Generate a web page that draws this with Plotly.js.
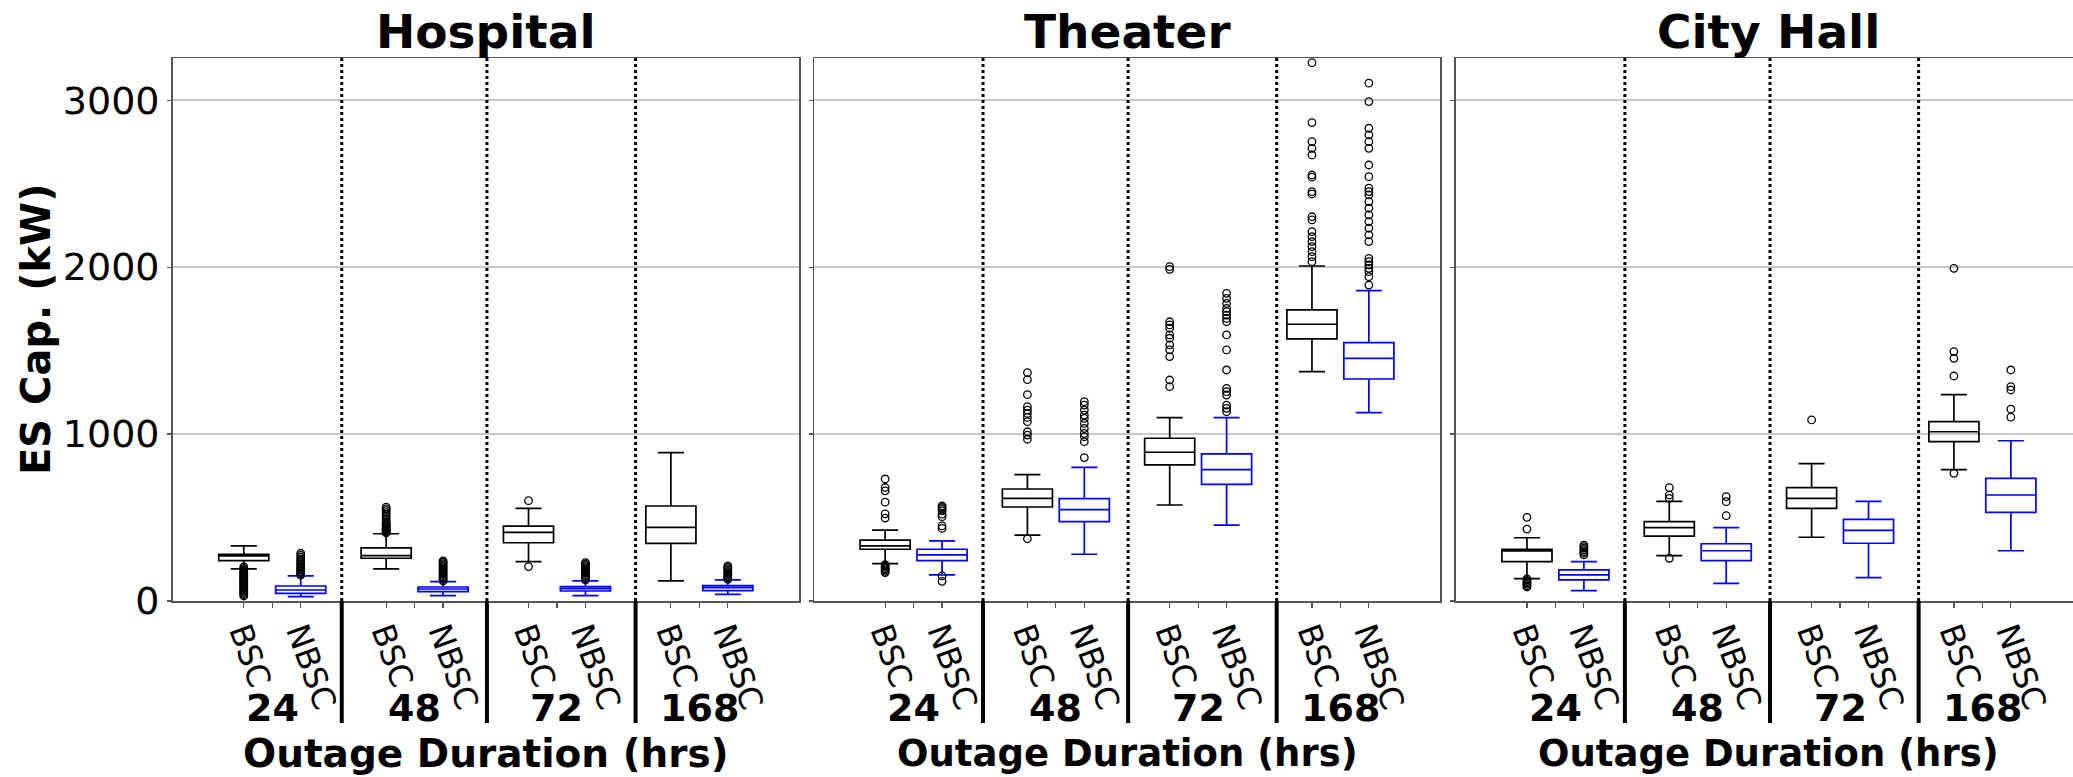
<!DOCTYPE html>
<html>
<head>
<meta charset="utf-8">
<script src="https://cdn.plot.ly/plotly-3.0.1.min.js"></script>
<style>
  html, body { margin: 0; padding: 0; overflow: hidden; background: #fff; }
  #chart { width: 2090px; height: 777px; }
</style>
</head>
<body>
<div id="chart"></div>
<script>
// ---------------- DATA ----------------
const panels = ['Hospital', 'Theater', 'City Hall'];
const durations = ['24', '48', '72', '168'];
const configs = ['BSC', 'NBSC'];
const yTicks = [0, 1000, 2000, 3000];

// per duration: [lower whisker, Q1, median, Q3, upper whisker]  (kW)
const hospitalBSC  = [[192, 242, 270, 280, 330], [192, 256, 272, 318, 403], [236, 349, 411, 449, 555], [120, 345, 441, 569, 889]];
const hospitalNBSC = [[26, 46, 66, 90, 150], [32, 56, 72, 84, 116], [32, 60, 74, 86, 120], [40, 62, 80, 92, 126]];
const theaterBSC   = [[224, 310, 330, 365, 424], [395, 563, 615, 671, 757], [575, 815, 891, 975, 1098], [1374, 1570, 1658, 1744, 2007]];
const theaterNBSC  = [[156, 242, 276, 310, 360], [280, 475, 547, 613, 801], [454, 699, 787, 881, 1098], [1128, 1330, 1454, 1548, 1859]];
const cityBSC      = [[134, 236, 300, 310, 379], [272, 389, 439, 475, 597], [382, 555, 615, 679, 823], [787, 955, 1014, 1074, 1236]];
const cityNBSC     = [[62, 126, 156, 186, 236], [106, 242, 301, 343, 439], [140, 346, 423, 489, 597], [301, 531, 635, 735, 960]];

// outliers per duration (kW)
const hospitalBSCOut = [
  [30, 38, 45, 52, 60, 68, 75, 82, 90, 98, 105, 112, 120, 128, 135, 142, 150, 158, 165, 172, 180, 188, 196, 204],
  [408, 414, 420, 426, 432, 438, 444, 450, 456, 462, 468, 476, 490, 505, 518, 530, 542, 552, 562],
  [601, 206],
  []
];
const hospitalNBSCOut = [
  [155, 162, 170, 178, 186, 194, 202, 210, 220, 230, 240, 250, 262, 274, 286],
  [120, 128, 136, 144, 152, 160, 168, 176, 184, 192, 200, 208, 216, 224, 232, 240],
  [126, 134, 142, 150, 158, 166, 174, 182, 190, 198, 206, 214, 222, 230],
  [130, 138, 146, 154, 162, 170, 178, 186, 194, 202, 210]
];
const theaterBSCOut = [
  [731, 680, 660, 592, 522, 497, 170, 178, 186, 194, 202, 210, 218],
  [1368, 1326, 1236, 1164, 1144, 1124, 1100, 1074, 1014, 994, 969, 373],
  [2003, 1987, 1673, 1654, 1634, 1594, 1574, 1534, 1504, 1464, 1324, 1284],
  [3225, 2866, 2752, 2712, 2672, 2552, 2539, 2452, 2439, 2302, 2283, 2213, 2183, 2153, 2123, 2093, 2063, 2033]
];
const theaterNBSCOut = [
  [570, 560, 550, 540, 520, 505, 450, 435, 150, 118],
  [1194, 1174, 1144, 1114, 1094, 1064, 1034, 1004, 984, 954, 859],
  [1843, 1813, 1783, 1753, 1733, 1713, 1693, 1673, 1594, 1504, 1384, 1274, 1254, 1234, 1174, 1154, 1134],
  [3102, 2992, 2832, 2792, 2752, 2712, 2612, 2542, 2473, 2453, 2433, 2393, 2353, 2313, 2273, 2233, 2193, 2153, 2053, 2033, 2013, 1993, 1973, 1943, 1893]
];
const cityBSCOut = [
  [501, 431, 132, 124, 116, 108, 100, 92, 84],
  [679, 635, 615, 256],
  [1085],
  [1993, 1494, 1454, 1348, 765]
];
const cityNBSCOut = [
  [335, 326, 316, 306, 296, 286, 276],
  [625, 595, 511],
  [],
  [1384, 1284, 1264, 1149, 1101]
];

// ---------------- LAYOUT CONSTANTS ----------------
const W = 2090, H = 777;
const FONT = 'DejaVu Sans, sans-serif';
const bscPos = [1, 3.5, 6, 8.5];
const nbscPos = [2, 4.5, 7, 9.5];
const midPos = [1.5, 4, 6.5, 9];
const sepPos = [2.72, 5.27, 7.88];
const xRange = [-0.25, 10.75];
const panelPx = [[172.6, 799], [814, 1440], [1455.8, 2082]];
const plotTopPx = 58, plotBotPx = 601;
const yDom = [1 - plotBotPx / H, 1 - plotTopPx / H];
const statsList = [[hospitalBSC, hospitalNBSC], [theaterBSC, theaterNBSC], [cityBSC, cityNBSC]];
const outList = [[hospitalBSCOut, hospitalNBSCOut], [theaterBSCOut, theaterNBSCOut], [cityBSCOut, cityNBSCOut]];
const colors = ['black', 'blue'];
const positions = [bscPos, nbscPos];

const traces = [];
const layout = {
  width: W, height: H, autosize: false,
  margin: {l: 0, r: 0, t: 0, b: 0, pad: 0},
  paper_bgcolor: 'white', plot_bgcolor: 'white',
  showlegend: false,
  font: {family: FONT, color: 'black'},
  shapes: [], annotations: []
};

const tickvals = [], ticktext = [];
for (let g = 0; g < durations.length; g++) {
  tickvals.push(bscPos[g], midPos[g], nbscPos[g]);
  ticktext.push(configs[0], '', configs[1]);
}

panels.forEach((name, p) => {
  const xa = p === 0 ? 'x' : 'x' + (p + 1);
  const ya = p === 0 ? 'y' : 'y' + (p + 1);
  const xKey = p === 0 ? 'xaxis' : 'xaxis' + (p + 1);
  const yKey = p === 0 ? 'yaxis' : 'yaxis' + (p + 1);
  const dom = [panelPx[p][0] / W, panelPx[p][1] / W];

  layout[xKey] = {
    domain: dom, range: xRange, anchor: ya,
    tickmode: 'array', tickvals: tickvals, ticktext: ticktext, tickangle: 70,
    ticks: 'outside', ticklen: 5, tickwidth: 1.2, tickcolor: '#555',
    ticklabelstandoff: -6,
    tickfont: {family: FONT, size: 32, color: 'black'},
    showline: true, mirror: true, linecolor: '#555', linewidth: 1.5,
    showgrid: false, zeroline: false, fixedrange: true
  };
  layout[yKey] = {
    domain: yDom, range: [0, 3253], anchor: xa,
    tickmode: 'array', tickvals: yTicks,
    ticks: 'outside', ticklen: 4, tickwidth: 1.2, tickcolor: '#555',
    showticklabels: p === 0,
    tickfont: {family: FONT, size: 38, color: 'black'},
    showline: true, mirror: true, linecolor: '#555', linewidth: 1.5,
    showgrid: true, gridcolor: '#c8c8c8', gridwidth: 1.5,
    zeroline: false, fixedrange: true
  };
  if (p > 0) layout[yKey].matches = 'y';

  for (let c = 0; c < 2; c++) {
    const st = statsList[p][c];
    traces.push({
      type: 'box', xaxis: xa, yaxis: ya,
      name: name + ' ' + configs[c],
      x: positions[c],
      lowerfence: st.map(s => s[0]),
      q1: st.map(s => s[1]),
      median: st.map(s => s[2]),
      q3: st.map(s => s[3]),
      upperfence: st.map(s => s[4]),
      width: 0.88, whiskerwidth: 0.52,
      boxpoints: false,
      line: {color: colors[c], width: 1.7},
      fillcolor: 'rgba(0,0,0,0)',
      hoverinfo: 'skip', showlegend: false
    });
    const ox = [], oy = [];
    outList[p][c].forEach((arr, g) => arr.forEach(v => { ox.push(positions[c][g]); oy.push(v); }));
    traces.push({
      type: 'scatter', mode: 'markers', xaxis: xa, yaxis: ya,
      name: name + ' ' + configs[c] + ' outliers',
      x: ox, y: oy, cliponaxis: false,
      marker: {symbol: 'circle-open', size: 7.5, color: 'black', line: {width: 1.3, color: 'black'}},
      hoverinfo: 'skip', showlegend: false
    });
  }

  // separators: dotted inside, thick solid below axis
  sepPos.forEach(sx => {
    layout.shapes.push({type: 'line', xref: xa, yref: 'paper', x0: sx, x1: sx, y0: yDom[0], y1: yDom[1],
      line: {color: 'black', width: 3, dash: 'dot'}});
    layout.shapes.push({type: 'line', xref: xa, yref: 'paper', x0: sx, x1: sx, y0: 1 - 723 / H, y1: yDom[0],
      line: {color: 'black', width: 4}});
  });

  // panel title
  layout.annotations.push({
    xref: 'paper', yref: 'paper', x: (dom[0] + dom[1]) / 2, y: 1 - 2 / H,
    xanchor: 'center', yanchor: 'top', showarrow: false, text: name,
    font: {family: FONT, size: 47, weight: 'bold', color: 'black'}
  });
  // duration labels
  durations.forEach((d, g) => {
    layout.annotations.push({
      xref: xa, yref: 'paper', x: midPos[g], y: 1 - 708 / H,
      xanchor: 'center', yanchor: 'middle', showarrow: false, text: d,
      font: {family: FONT, size: 38, weight: 'bold', color: 'black'}
    });
  });
  // x title
  layout.annotations.push({
    xref: 'paper', yref: 'paper', x: (dom[0] + dom[1]) / 2, y: 1 - 753 / H,
    xanchor: 'center', yanchor: 'middle', showarrow: false, text: 'Outage Duration (hrs)',
    font: {family: FONT, size: p === 0 ? 39 : 37, weight: 'bold', color: 'black'}
  });
});

// y title
layout.annotations.push({
  xref: 'paper', yref: 'paper', x: 36 / W, y: 1 - 330 / H,
  xanchor: 'center', yanchor: 'middle', showarrow: false, textangle: -90,
  text: 'ES Cap. (kW)',
  font: {family: FONT, size: 40, weight: 'bold', color: 'black'}
});

Plotly.newPlot('chart', traces, layout, {staticPlot: true, displayModeBar: false});
</script>
</body>
</html>
